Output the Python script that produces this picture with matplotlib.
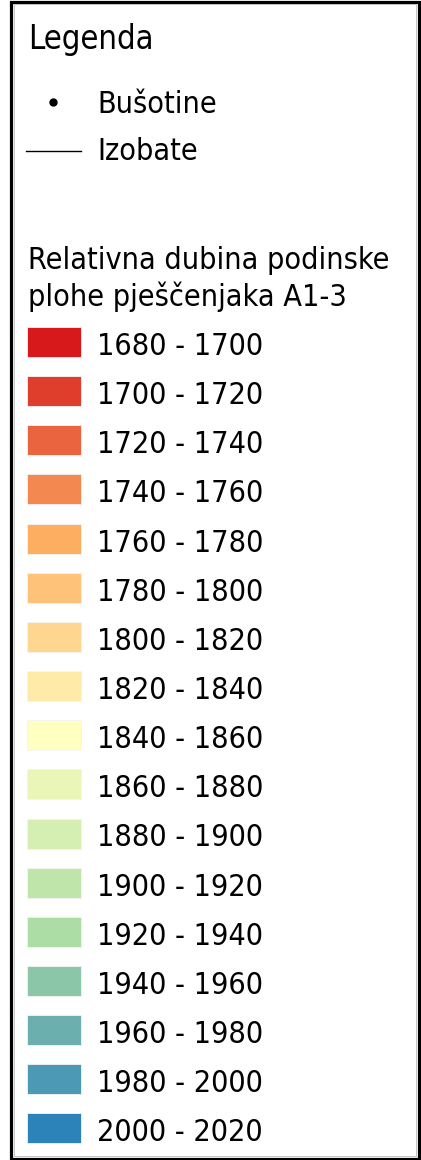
import matplotlib
matplotlib.use("Agg")
import matplotlib.pyplot as plt
from matplotlib.patches import Rectangle
from matplotlib import font_manager

# ---- data ----
legend_title = "Legenda"
symbol_labels = ["Bušotine", "Izobate"]
ramp_title = ["Relativna dubina podinske", "plohe pješčenjaka A1-3"]
class_lows = [1680, 1700, 1720, 1740, 1760, 1780, 1800, 1820, 1840,
              1860, 1880, 1900, 1920, 1940, 1960, 1980, 2000]
class_highs = [1700, 1720, 1740, 1760, 1780, 1800, 1820, 1840, 1860,
               1880, 1900, 1920, 1940, 1960, 1980, 2000, 2020]
class_colors = ["#d7191c", "#e03e2d", "#ea643f", "#f38950", "#fdae61",
                "#fec279", "#fed690", "#feeba7", "#ffffbf", "#eaf6b8",
                "#d5eeb1", "#c0e5aa", "#abdda4", "#8bc6a9", "#6bb0af",
                "#4b99b4", "#2b83ba"]

W, H = 421, 1160
fig = plt.figure(figsize=(W / 100, H / 100), dpi=100)
ax = fig.add_axes([0, 0, 1, 1])
ax.set_xlim(0, W)
ax.set_ylim(H, 0)
ax.axis("off")

fp = font_manager.FontProperties(family="DejaVu Sans", stretch="condensed")
fs = 21.9

def txt(x, y, s, size):
    ax.text(x, y, s, fontproperties=fp, fontsize=size, va="baseline", ha="left")

# frame
ax.add_patch(Rectangle((11, 1.5), 407.5, 1157, fill=False, edgecolor="black", linewidth=2.3))
ax.add_patch(Rectangle((13.5, 4), 402.5, 1152, fill=False, edgecolor="#bbbbbb", linewidth=0.6))

txt(28, 49, legend_title, 23.5)

# symbols
ax.plot([53], [102], "o", color="black", markersize=5)
txt(97, 113, symbol_labels[0], fs)
ax.plot([26, 81], [151, 151], color="black", linewidth=1.0)
txt(97, 160, symbol_labels[1], fs)

# ramp title
txt(28, 269, ramp_title[0], fs)
txt(28, 306, ramp_title[1], fs)

# classes
step = 49.15
ys = [327 + step * i + 15 for i in range(len(class_lows))]
ax.barh(ys, [54] * len(ys), left=27, height=30, color=class_colors,
        edgecolor="#f4f4f4", linewidth=0.6)
for i, (lo, hi) in enumerate(zip(class_lows, class_highs)):
    txt(97, 355 + step * i, f"{lo} - {hi}", fs)

fig.savefig("out.png", dpi=100, facecolor="white")
